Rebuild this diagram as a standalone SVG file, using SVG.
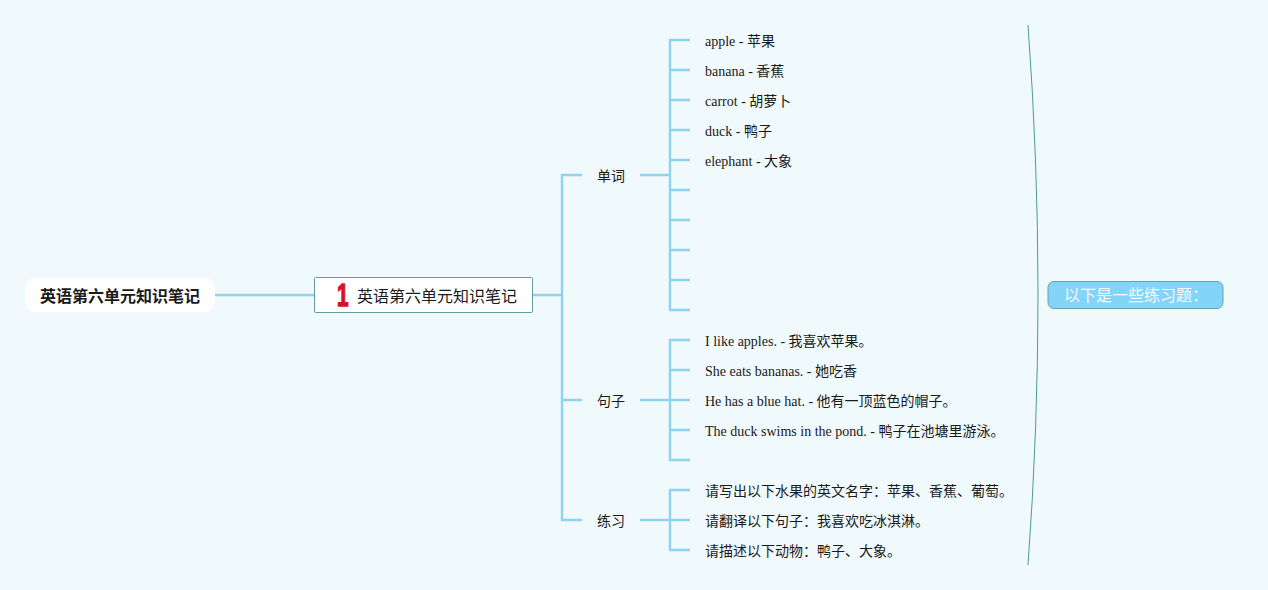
<svg xmlns="http://www.w3.org/2000/svg" width="1268" height="590" viewBox="0 0 1268 590">
<style>
text{font-family:"Liberation Serif","Noto Sans CJK SC",serif;font-size:14px;fill:#1a1a1a}
.c{fill:none;stroke:#8fd4ef;stroke-width:2.4}
.m{font-size:16px}
</style>
<rect width="1268" height="590" fill="#f0f9fb"/>
<g id="connectors">
<path class="c" d="M215 295H315M532 295H562M582 175H562V520H582M562 400H582"/>
<path class="c" d="M640 175H670M690 40H670V310H690M670 70H690M670 100H690M670 130H690M670 160H690M670 190H690M670 220H690M670 250H690M670 280H690"/>
<path class="c" d="M640 400H670M690 340H670V460H690M670 370H690M670 400H690M670 430H690"/>
<path class="c" d="M640 520H670M690 490H670V550H690M670 520H690"/>
<path d="M1028 25Q1048 295 1028 565" fill="none" stroke="#4f9c8c" stroke-width="1"/>
</g>
<g id="root"><rect x="25" y="278" width="190" height="34" rx="11" fill="#fff"/><text x="40" y="302" class="m" style="font-weight:700">英语第六单元知识笔记</text></g>
<g id="topic"><rect x="314.500" y="277.500" width="218" height="35" rx="1" fill="#fff" stroke="#5f9f98"/><text transform="translate(337 306) scale(.65 1)" style="font-family:'Liberation Sans',sans-serif;font-size:32px;font-weight:700;fill:#d8102a;stroke:#d8102a;stroke-width:1.4;stroke-linejoin:round">1</text><text x="357" y="302" class="m">英语第六单元知识笔记</text></g>
<g id="n-words"><text x="597" y="181">单词</text></g>
<g id="n-sent"><text x="597" y="406">句子</text></g>
<g id="n-prac"><text x="597" y="526">练习</text></g>
<g id="w1"><text x="705" y="46">apple - 苹果</text></g>
<g id="w2"><text x="705" y="76">banana - 香蕉</text></g>
<g id="w3"><text x="705" y="106">carrot - 胡萝卜</text></g>
<g id="w4"><text x="705" y="136">duck - 鸭子</text></g>
<g id="w5"><text x="705" y="166">elephant - 大象</text></g>
<g id="s1"><text x="705" y="346">I like apples. - 我喜欢苹果。</text></g>
<g id="s2"><text x="705" y="376">She eats bananas. - 她吃香</text></g>
<g id="s3"><text x="705" y="406">He has a blue hat. - 他有一顶蓝色的帽子。</text></g>
<g id="s4"><text x="705" y="436">The duck swims in the pond. - 鸭子在池塘里游泳。</text></g>
<g id="p1"><text x="705" y="496">请写出以下水果的英文名字：苹果、香蕉、葡萄。</text></g>
<g id="p2"><text x="705" y="526">请翻译以下句子：我喜欢吃冰淇淋。</text></g>
<g id="p3"><text x="705" y="556">请描述以下动物：鸭子、大象。</text></g>
<g id="summary"><rect x="1048" y="281.500" width="175" height="27" rx="6" fill="#84d4f9" stroke="#5fa8a8"/><text x="1064" y="301" class="m" style="fill:#f4fbff">以下是一些练习题：</text></g>
</svg>
